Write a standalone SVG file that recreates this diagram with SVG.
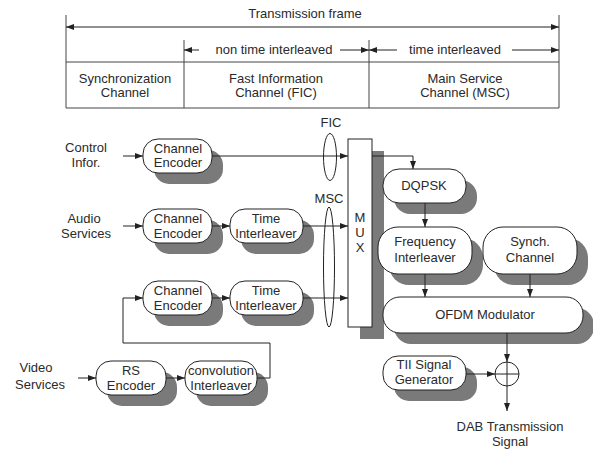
<svg xmlns="http://www.w3.org/2000/svg" width="593" height="450" viewBox="0 0 593 450">
<style>
text{font-family:"Liberation Sans",Arial,sans-serif;font-size:13px;fill:#2a2a2a;text-anchor:middle}
.ln{stroke:#222;stroke-width:1;fill:none}
.tb{stroke:#444;stroke-width:1;fill:none}
.box{fill:#fff;stroke:#222;stroke-width:1}
.sh{fill:#7a7a7a}
.arr{marker-end:url(#ah)}
.arr2{marker-start:url(#ah);marker-end:url(#ah)}
</style>
<defs>
<marker id="ah" viewBox="0 0 8 6" refX="8" refY="3" markerWidth="8" markerHeight="6" markerUnits="userSpaceOnUse" orient="auto-start-reverse">
<path d="M0,0 L8,3 L0,6 z" fill="#222"/>
</marker>
</defs>

<g id="frame">
<text x="305" y="18">Transmission frame</text>
<line class="tb" x1="66" y1="15" x2="66" y2="108"/>
<line class="tb" x1="559" y1="15" x2="559" y2="108"/>
<line class="tb" x1="184" y1="40" x2="184" y2="108"/>
<line class="tb" x1="369" y1="40" x2="369" y2="108"/>
<line class="tb" x1="66" y1="62" x2="559" y2="62"/>
<line class="tb" x1="66" y1="108" x2="559" y2="108"/>
<line class="ln arr2" x1="66" y1="27" x2="559" y2="27"/>
<line class="ln" x1="184" y1="50" x2="199" y2="50" marker-start="url(#ah)"/>
<line class="ln arr" x1="340" y1="50" x2="369" y2="50"/>
<line class="ln" x1="369" y1="50" x2="397" y2="50" marker-start="url(#ah)"/>
<line class="ln arr" x1="512" y1="50" x2="559" y2="50"/>
<text x="274" y="54">non time interleaved</text>
<text x="455" y="54">time interleaved</text>
<text x="125" y="83">Synchronization</text>
<text x="125" y="97">Channel</text>
<text x="276" y="83">Fast Information</text>
<text x="276" y="97">Channel (FIC)</text>
<text x="465" y="83">Main Service</text>
<text x="465" y="97">Channel (MSC)</text>
</g>

<g id="inputs">
<text x="86" y="152">Control</text>
<text x="86" y="167">Infor.</text>
<text x="84" y="223">Audio</text>
<text x="86" y="238">Services</text>
<text x="36" y="372">Video</text>
<text x="40" y="389">Services</text>
</g>

<g id="ce1"><rect class="sh" x="154" y="150" width="69" height="34" rx="15"/><rect class="box" x="143" y="139" width="69" height="34" rx="15"/><text x="178" y="153">Channel</text><text x="178" y="167">Encoder</text></g>
<g id="ce2"><rect class="sh" x="154" y="220" width="69" height="34" rx="15"/><rect class="box" x="143" y="209" width="69" height="34" rx="15"/><text x="178" y="223">Channel</text><text x="178" y="238">Encoder</text></g>
<g id="ti2"><rect class="sh" x="241" y="220" width="73" height="34" rx="15"/><rect class="box" x="230" y="209" width="73" height="34" rx="15"/><text x="266" y="223">Time</text><text x="266" y="238">Interleaver</text></g>
<g id="ce3"><rect class="sh" x="154" y="292" width="69" height="34" rx="15"/><rect class="box" x="143" y="281" width="69" height="34" rx="15"/><text x="178" y="295">Channel</text><text x="178" y="310">Encoder</text></g>
<g id="ti3"><rect class="sh" x="241" y="292" width="73" height="34" rx="15"/><rect class="box" x="230" y="281" width="73" height="34" rx="15"/><text x="266" y="295">Time</text><text x="266" y="310">Interleaver</text></g>
<g id="rs"><rect class="sh" x="107" y="372" width="70" height="34" rx="15"/><rect class="box" x="96" y="361" width="70" height="34" rx="15"/><text x="131" y="375">RS</text><text x="131" y="390">Encoder</text></g>
<g id="conv"><rect class="sh" x="196" y="372" width="72" height="34" rx="15"/><rect class="box" x="185" y="361" width="72" height="34" rx="15"/><text x="221" y="375">convolution</text><text x="221" y="390">Interleaver</text></g>

<g id="mux"><rect class="sh" x="360" y="151" width="24" height="188"/><rect class="box" x="348" y="139" width="24" height="188"/><text x="360" y="222">M</text><text x="360" y="237">U</text><text x="360" y="252">X</text></g>

<g id="dqpsk"><rect class="sh" x="394" y="180" width="83" height="34" rx="16"/><rect class="box" x="383" y="169" width="83" height="34" rx="16"/><text x="424" y="190">DQPSK</text></g>
<g id="freq"><rect class="sh" x="389" y="238" width="94" height="47" rx="20"/><rect class="box" x="378" y="227" width="94" height="47" rx="20"/><text x="425" y="246">Frequency</text><text x="425" y="262">Interleaver</text></g>
<g id="synch"><rect class="sh" x="494" y="238" width="94" height="47" rx="20"/><rect class="box" x="483" y="227" width="94" height="47" rx="20"/><text x="530" y="246">Synch.</text><text x="530" y="262">Channel</text></g>
<g id="ofdm"><rect class="sh" x="394" y="308" width="200" height="36" rx="17"/><rect class="box" x="383" y="297" width="200" height="36" rx="17"/><text x="485" y="319">OFDM Modulator</text></g>
<g id="tii"><rect class="sh" x="394" y="367" width="83" height="34" rx="15"/><rect class="box" x="383" y="356" width="83" height="34" rx="15"/><text x="424" y="369">TII Signal</text><text x="424" y="384">Generator</text></g>
<g id="sum"><circle class="box" cx="507" cy="374" r="12"/><line class="ln" x1="495" y1="374" x2="519" y2="374"/><line class="ln" x1="507" y1="362" x2="507" y2="386"/></g>
<g id="output"><text x="510" y="431">DAB Transmission</text><text x="510" y="446">Signal</text></g>

<g id="groups">
<text x="331" y="127">FIC</text>
<ellipse class="ln" cx="330" cy="157" rx="6.5" ry="23.5"/>
<text x="329" y="203">MSC</text>
<ellipse class="ln" cx="329" cy="267" rx="5.5" ry="60"/>
</g>

<g id="connectors">
<line class="ln arr" x1="123" y1="156" x2="143" y2="156"/>
<line class="ln arr" x1="212" y1="156" x2="348" y2="156"/>
<polyline class="ln arr" points="372,156 413,156 413,169"/>
<line class="ln arr" x1="123" y1="226" x2="143" y2="226"/>
<line class="ln arr" x1="212" y1="226" x2="230" y2="226"/>
<line class="ln arr" x1="303" y1="226" x2="348" y2="226"/>
<line class="ln arr" x1="212" y1="298" x2="230" y2="298"/>
<line class="ln arr" x1="303" y1="298" x2="348" y2="298"/>
<line class="ln arr" x1="78" y1="378" x2="96" y2="378"/>
<line class="ln arr" x1="166" y1="378" x2="185" y2="378"/>
<polyline class="ln arr" points="257,378 270,378 270,343 123,343 123,298 143,298"/>
<line class="ln arr" x1="425" y1="203" x2="425" y2="227"/>
<line class="ln arr" x1="425" y1="274" x2="425" y2="297"/>
<line class="ln arr" x1="530" y1="274" x2="530" y2="297"/>
<line class="ln arr" x1="507" y1="333" x2="507" y2="362"/>
<line class="ln arr" x1="466" y1="374" x2="495" y2="374"/>
<line class="ln arr" x1="507" y1="386" x2="507" y2="411"/>
</g>
</svg>
